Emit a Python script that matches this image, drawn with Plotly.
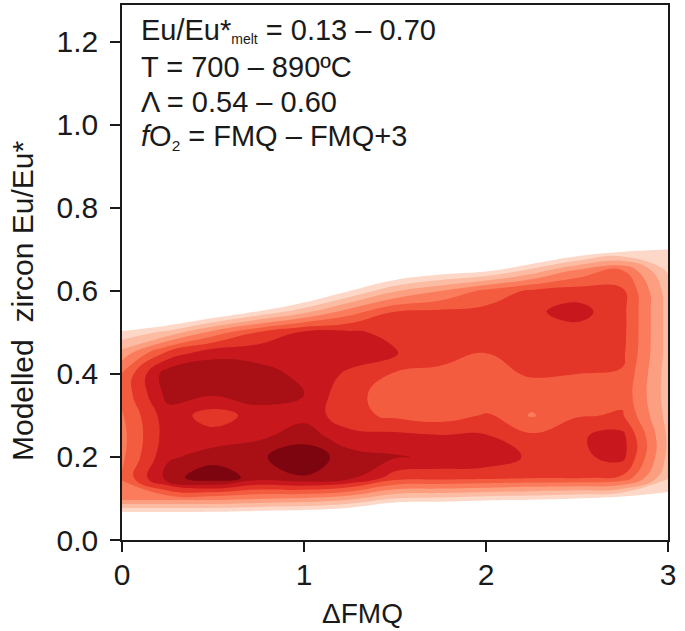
import plotly.graph_objects as go

x_fmq = [0.0, 0.25, 0.5, 0.75, 1.0, 1.25, 1.5, 1.75, 2.0, 2.25, 2.5, 2.75, 3.0]
y_eu = [0.00, 0.05, 0.10, 0.15, 0.20, 0.25, 0.30, 0.35, 0.40,
        0.45, 0.50, 0.55, 0.60, 0.65, 0.70, 0.75, 0.80]

# Density level (band index 0..9) read at each grid node, one row per y value
row_000 = [-5, -5, -5, -5, -5, -5, -5, -5, -5, -5, -5, -5, -5]
row_005 = [-1.3, -1.3, -1.4, -1.6, -1.8, -2.4, -3.7, -3.9, -4.2, -4.5, -4.7, -5, -5]
row_010 = [3.9, 3.9, 3.9, 3.6, 3.4, 2.8, 1.5, 1.3, 1.0, 0.8, 0.5, 0.0, 0.0]
row_015 = [4.6, 8.0, 9.3, 8.0, 8.4, 7.8, 6.0, 5.9, 5.8, 5.6, 5.6, 5.3, 1.6]
row_020 = [4.3, 7.3, 8.0, 8.3, 9.3, 7.9, 7.6, 7.3, 7.2, 6.3, 6.3, 6.8, 2.2]
row_025 = [4.2, 7.0, 6.9, 7.3, 8.0, 6.9, 6.8, 6.6, 6.6, 5.7, 6.4, 6.8, 2.3]
row_030 = [4.4, 7.1, 6.0, 6.9, 7.2, 5.8, 5.3, 5.0, 5.6, 4.4, 5.4, 5.6, 2.1]
row_035 = [4.8, 7.8, 7.6, 8.1, 7.5, 5.7, 5.2, 5.2, 5.1, 5.0, 5.1, 5.2, 2.0]
row_040 = [4.6, 8.1, 8.2, 7.8, 7.3, 6.3, 5.4, 5.3, 5.2, 5.6, 5.5, 5.4, 2.0]
row_045 = [2.9, 5.8, 7.2, 7.2, 7.1, 7.1, 6.6, 5.8, 5.5, 6.0, 5.9, 5.7, 2.1]
row_050 = [0.75, 1.8, 3.9, 5.6, 6.7, 6.7, 6.2, 6.0, 5.8, 6.1, 6.1, 5.8, 2.1]
row_055 = [-2.6, -2.0, -1.0, 0.6, 2.2, 4.0, 5.5, 5.7, 5.8, 6.3, 6.9, 5.8, 2.1]
row_060 = [-5, -5, -5, -3, -1.6, 0.5, 2.4, 3.5, 4.8, 5.7, 6.0, 5.7, 2.0]
row_065 = [-5, -5, -5, -5, -5, -3, -1.2, -0.3, 0.2, 1.8, 3.6, 4.5, 1.3]
row_070 = [-5, -5, -5, -5, -5, -5, -5, -4, -4, -2.5, -1.0, 0.0, 0.5]
row_075 = [-5, -5, -5, -5, -5, -5, -5, -5, -5, -5, -5, -4, -2]
row_080 = [-5, -5, -5, -5, -5, -5, -5, -5, -5, -5, -5, -5, -5]

density_levels = [row_000, row_005, row_010, row_015, row_020, row_025, row_030,
                  row_035, row_040, row_045, row_050, row_055, row_060, row_065,
                  row_070, row_075, row_080]

band_colors = ["#ffffff", "#fdd8c8", "#fcbca3", "#fc9e80", "#fb7c5c",
               "#f45c40", "#e43529", "#c9181d", "#a91016", "#7c050f"]

x_ticks = [0, 1, 2, 3]
y_ticks = [0.0, 0.2, 0.4, 0.6, 0.8, 1.0, 1.2]

x_title = "ΔFMQ"
y_title = "Modelled\u00a0 zircon Eu/Eu*"
info_lines = [
    "Eu/Eu*<span style='font-size:20px'><sub>melt</sub></span> = 0.13 – 0.70",
    "T = 700 – 890ºC",
    "Λ = 0.54 – 0.60",
    "<i>f</i>O<span style='font-size:22px'><sub>2</sub></span> = FMQ – FMQ+3",
]

# stepped colour scale: band k is centred on k/9
n = len(band_colors) - 1
colorscale = []
for k, c in enumerate(band_colors):
    lo = max(0.0, (k - 0.5) / n)
    hi = min(1.0, (k + 0.5) / n)
    colorscale.append([lo, c])
    colorscale.append([hi, c])

FONT = "Liberation Sans, Arial, Helvetica, sans-serif"
INK = "#1a1a1a"

fig = go.Figure(go.Contour(
    x=x_fmq, y=y_eu, z=density_levels,
    autocontour=False,
    contours=dict(start=0.5, end=8.5, size=1, coloring="fill", showlines=False),
    line=dict(width=0, smoothing=1.3),
    colorscale=colorscale, zmin=0, zmax=9,
    showscale=False, hoverinfo="skip",
))

axis_common = dict(
    showline=True, linecolor=INK, linewidth=1.5, mirror=True,
    ticks="outside", ticklen=10, tickwidth=1.5, tickcolor=INK,
    showgrid=False, zeroline=False, automargin=False,
    tickfont=dict(family=FONT, size=30, color=INK),
)

fig.update_xaxes(range=[0, 3], tickvals=x_ticks, ticklabelstandoff=-3, **axis_common)
fig.update_yaxes(range=[0, 1.289], tickvals=y_ticks, tickformat=".1f",
                 ticklabelstandoff=6, **axis_common)

PL, PW, PB, PH = 122, 546, 540, 535  # plot-area geometry in px


def px_to_paper(px, py):
    return (px - PL) / PW, (PB - py) / PH


annotations = []
line_centers_px = [30, 67, 102, 137]
for txt, py in zip(info_lines, line_centers_px):
    ax, ay = px_to_paper(139, py)
    annotations.append(dict(
        text=txt, xref="paper", yref="paper", x=ax, y=ay,
        xanchor="left", yanchor="middle", showarrow=False,
        font=dict(family=FONT, size=29, color=INK),
    ))

ax, ay = px_to_paper(362, 613)
annotations.append(dict(text=x_title, xref="paper", yref="paper", x=ax, y=ay,
                        xanchor="center", yanchor="middle", showarrow=False,
                        borderpad=0,
                        font=dict(family=FONT, size=28, color=INK)))
ax, ay = px_to_paper(22, 301)
annotations.append(dict(text=y_title, xref="paper", yref="paper", x=ax, y=ay,
                        xanchor="center", yanchor="middle", showarrow=False,
                        textangle=-90,
                        font=dict(family=FONT, size=30, color=INK)))

fig.update_layout(
    width=685, height=631,
    margin=dict(l=122, r=17, t=5, b=91),
    plot_bgcolor="white", paper_bgcolor="white",
    annotations=annotations,
    showlegend=False,
)

fig.write_html("out.html", config={"displayModeBar": False},
               post_script="document.body.style.margin='0';")
